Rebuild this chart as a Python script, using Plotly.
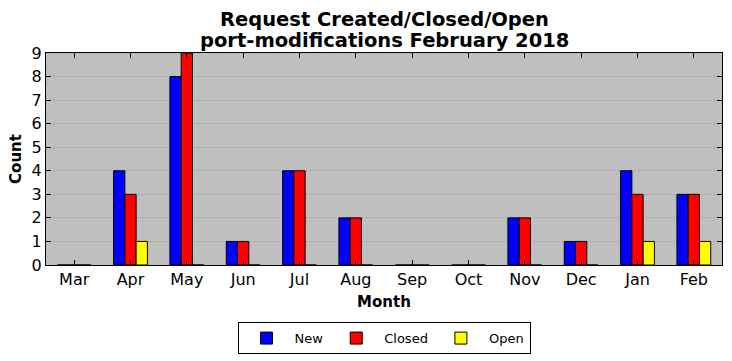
import plotly.graph_objects as go

months = ["Mar", "Apr", "May", "Jun", "Jul", "Aug", "Sep", "Oct", "Nov", "Dec", "Jan", "Feb"]
new_counts = [0, 4, 8, 1, 4, 2, 0, 0, 2, 1, 4, 3]
closed_counts = [0, 3, 9, 1, 4, 2, 0, 0, 2, 1, 3, 3]
open_counts = [0, 1, 0, 0, 0, 0, 0, 0, 0, 0, 1, 1]
title_lines = ["Request Created/Closed/Open", "port-modifications February 2018"]

FONT = "DejaVu Sans"
fig = go.Figure()
for name, vals, col in [("New", new_counts, "#0000ff"),
                        ("Closed", closed_counts, "#ff0000"),
                        ("Open", open_counts, "#ffff00")]:
    fig.add_trace(go.Bar(x=months, y=vals, name=name,
                         marker=dict(color=col, line=dict(color="black", width=1))))

for txt, yy in zip(title_lines, [1.16, 1.057]):
    fig.add_annotation(text="<b>%s</b>" % txt, x=0.5, xref="paper", y=yy, yref="paper",
                       xanchor="center", yanchor="middle", showarrow=False,
                       font=dict(size=19.5, family=FONT, color="black"))

fig.update_layout(
    width=732, height=361,
    margin=dict(l=46, r=10, t=53, b=96, autoexpand=False),
    barmode="group", bargap=0.4, bargroupgap=0,
    plot_bgcolor="#bfbfbf", paper_bgcolor="white",
    font=dict(family=FONT, color="black"),
    legend=dict(orientation="h", x=0.5, xanchor="center", y=-0.345, yanchor="middle",
                bordercolor="black", borderwidth=1, font=dict(size=13, family=FONT),
                itemwidth=46),
    showlegend=True,
)
fig.update_xaxes(
    range=[-0.5, 11.5], showline=True, linecolor="black", linewidth=1, mirror="ticks",
    ticks="inside", ticklen=5, tickcolor="black", showgrid=False,
    tickfont=dict(size=16), title=dict(text="<b>Month</b>", font=dict(size=15), standoff=8),
)
fig.update_yaxes(
    range=[0, 9], dtick=1, showline=True, linecolor="black", linewidth=1, mirror="ticks",
    ticks="inside", ticklen=5, tickcolor="black",
    showgrid=True, gridcolor="#8c8c8c", griddash="1px,3px", gridwidth=1, zeroline=False,
    tickfont=dict(size=16), title=dict(text="<b>Count</b>", font=dict(size=15), standoff=6),
)
fig.write_html("out.html")
